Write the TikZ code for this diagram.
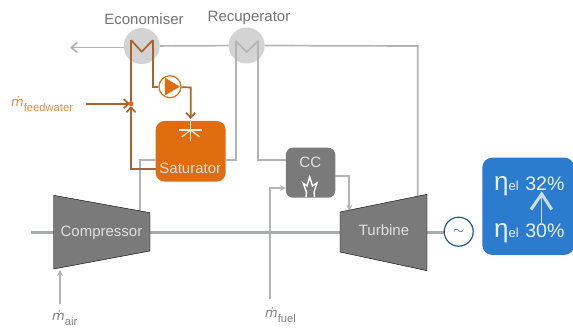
\documentclass[tikz,border=0pt]{standalone}
\usepackage{fontspec}
\setmainfont{Liberation Sans}
\newfontfamily\mdotfont{DejaVu Sans}
\usepackage{xcolor}
\usetikzlibrary{calc,arrows.meta}
\definecolor{pipegray}{HTML}{B4B4B4}
\definecolor{shaftgray}{HTML}{A9ADA9}
\definecolor{machinegray}{HTML}{7A7A7A}
\definecolor{hxgray}{HTML}{D3D3D3}
\definecolor{satorange}{HTML}{E06C10}
\definecolor{waterbrown}{HTML}{A9642B}
\definecolor{resultblue}{HTML}{2B7BCE}
\definecolor{genblue}{HTML}{205C98}
\newcommand{\mflow}[1]{{\mdotfont\itshape\fontsize{13}{13}\selectfont ṁ}\raisebox{-5pt}{\fontsize{11.2}{11.2}\selectfont #1}}
\newcommand{\etarow}[1]{{\fontsize{26}{26}\selectfont η}{\fontsize{13}{13}\selectfont el}\hspace{6.5pt}{\fontsize{19.6}{20}\selectfont #1\%}}
\tikzset{
    pipe/.style={draw=pipegray,line width=1.7pt},
    water/.style={draw=waterbrown,line width=1.7pt},
    shaft/.style={draw=shaftgray,line width=3pt},
    pipearrow/.style={pipe,-{Stealth[length=6pt,width=6pt]}},
    waterarrow/.style={water,-{Straight Barb[length=5pt,width=9pt]}},
    hx/.style={circle,fill=hxgray,minimum size=36pt,inner sep=0pt},
    machine/.style={fill=machinegray},
    lightlabel/.style={text=white!88!black,font=\fontsize{15}{15}\selectfont},
    graylabel/.style={text=black!55,font=\fontsize{15}{15}\selectfont},
    flowlabel/.style={anchor=base west,inner sep=0pt,text=black!50},
}
\begin{document}
\begin{tikzpicture}[x=1pt,y=-1pt]
    \useasboundingbox (0,0) rectangle (573,327);
    \node[hx] (eco) at (141.7,46) {};
    \node[hx] (rec) at (246.7,45.5) {};
    \node[graylabel] (ecolabel) at (144,19) {Economiser};
    \node[graylabel] (reclabel) at (249,18) {Recuperator};
    \coordinate (exhaust) at (70,47.5);
    \coordinate (ecoL) at (131,40);
    \coordinate (ecoM) at (141.7,51.7);
    \coordinate (ecoR) at (153,40);
    \coordinate (recL) at (235.7,41);
    \coordinate (recM) at (246.7,52);
    \coordinate (recR) at (258,41);
    \coordinate (turbout) at (417.7,197);
    \coordinate (compout) at (140,211);
    \coordinate (turbin) at (349.3,211);
    \coordinate (airin) at (60,304);
    \coordinate (airend) at (60,270);
    \coordinate (fuelin) at (270,299);
    \coordinate (feedin) at (86,103.7);
    \coordinate (compNW) at (53.7,195.3);
    \coordinate (compNE) at (150,212.7);
    \coordinate (compSE) at (150,251);
    \coordinate (compSW) at (53.7,269);
    \coordinate (turbNW) at (340,212);
    \coordinate (turbNE) at (427,194.3);
    \coordinate (turbSE) at (427,270.7);
    \coordinate (turbSW) at (340,252);
    \coordinate (shaftin) at (30.7,232.7);
    \coordinate (risetail) at (541.7,223);
    \coordinate (risetip) at (541.7,194);
    \node[fill=satorange,rounded corners=9pt,minimum width=70pt,minimum height=60.7pt,inner sep=0pt] (sat) at (190.7,151.3) {};
    \node[machine,rounded corners=7pt,minimum width=49.3pt,minimum height=50pt,inner sep=0pt] (cc) at (310.6,172.7) {};
    \node[fill=resultblue,rounded corners=10pt,minimum width=92pt,minimum height=97.3pt,inner sep=0pt] (result) at (528.3,206.3) {};
    \draw[pipe,-{Straight Barb[length=6pt,width=10pt]}] (eco.west |- exhaust) -- (exhaust);
    \draw[pipe] (eco) -- (rec);
    \draw[pipe] (rec.east) -- (417.7,46) -- (turbout);
    \draw[pipe] (recL) -- (recM) -- (recR);
    \draw[pipe] (recL) -- (235.7,159.7) -- (sat.east |- 0,159.7);
    \draw[pipe] (recR) -- (258,159.7) -- (cc.west |- 0,159.7);
    \draw[pipe] (sat.west |- 0,160) -- (140,160) -- (compout);
    \draw[pipearrow] (cc.east |- 0,175.7) -- (349.3,175.7) -- (turbin);
    \draw[pipearrow] (fuelin) -- (270,188) -- (cc.west |- 0,188);
    \draw[pipearrow] (airin) -- (airend);
    \draw[shaft] (shaftin) -- (compSW |- shaftin);
    \draw[shaft] (compSE |- shaftin) -- (turbSW |- shaftin);
    \draw[shaft] (turbSE |- shaftin) -- (444,232.7);
    \draw[machine] (compNW) -- (compNE) -- (compSE) -- (compSW) -- cycle;
    \draw[machine] (turbNW) -- (turbNE) -- (turbSE) -- (turbSW) -- cycle;
    \node[lightlabel] (comp) at (101.5,233) {Compressor};
    \node[lightlabel] (turb) at (384,230) {Turbine};
    \node[lightlabel] (cclabel) at (310.3,162) {CC};
    \node[lightlabel] (satlabel) at (190.3,168) {Saturator};
    \node[circle,draw=genblue,fill=white,line width=1.2pt,minimum size=29pt,inner sep=0pt,font=\fontsize{15}{15}\selectfont,text=genblue] (gen) at (458.7,231.7) {$\sim$};
    \draw[white,line width=1.4pt] (306,197) -- (306.5,192) -- (303,183) -- (307,186) -- (309.7,177) -- (312.5,186) -- (317,183) -- (314,192) -- (314.5,197);
    \begin{scope}[white!90!orange,line width=1.2pt]
      \foreach \ang in {0,180,-90,90,38,142}
      {
        \draw (190.7,130) -- ++(\ang:11.3);
      }
    \end{scope}
    \draw[water] (ecoR) -- (ecoM) -- (ecoL);
    \draw[waterarrow] (sat.west |- 0,169) -- (131,169) -- (131,106);
    \draw[water] (ecoL) -- (131,103.7);
    \draw[waterarrow] (feedin) -- (130,103.7);
    \node[circle,fill=satorange,minimum size=5pt,inner sep=0pt] (mix) at (131,103.7) {};
    \node[circle,draw=satorange,fill=white,line width=1.2pt,minimum size=22pt,inner sep=0pt] (pump) at (170,86.7) {};
    \draw[fill=satorange,draw=satorange] (165,78) -- (179.3,86.7) -- (165,95) -- cycle;
    \draw[water] (ecoR) -- (153,86.7) -- (pump);
    \draw[waterarrow] (pump) -- (190.7,87.5) -- (190.7,119);
    \node[flowlabel,text=satorange!80!white] (feedlabel) at (11,106.7) {\mflow{feedwater}};
    \node[flowlabel] (airlabel) at (52,320) {\mflow{air}};
    \node[flowlabel] (fuellabel) at (265,317.7) {\mflow{fuel}};
    \node[anchor=base west,inner sep=0pt,text=white!90!resultblue] (eta32) at (494,190) {\etarow{32}};
    \node[anchor=base west,inner sep=0pt,text=white!90!resultblue] (eta30) at (494,237) {\etarow{30}};
    \draw[white!75!resultblue,line width=1.2pt] (risetail) -- (risetip);
    \draw[white!75!resultblue,line width=3pt] ($(risetip)+(-10.7,15.5)$) -- (risetip) -- ($(risetip)+(10,15.5)$);
\end{tikzpicture}
\end{document}
